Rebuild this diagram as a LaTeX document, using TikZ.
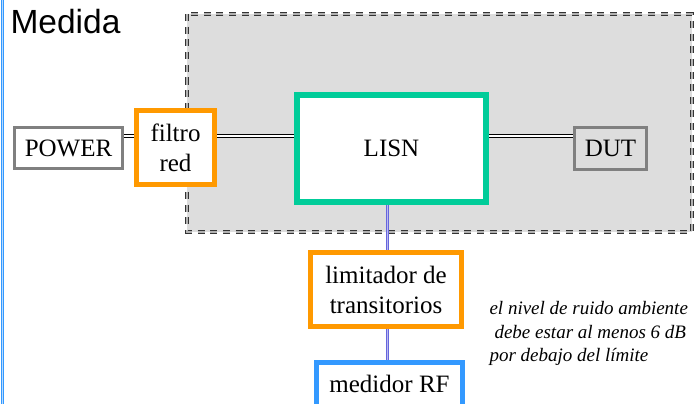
\documentclass[tikz,border=0pt]{standalone}
\usepackage{fontspec}
\setmainfont{Liberation Serif}
\newfontfamily\titlefont{Liberation Sans}
\newfontfamily\boxfont{Liberation Serif}
\definecolor{boxgray}{HTML}{808080}
\definecolor{filtorange}{HTML}{FF9900}
\definecolor{lisngreen}{HTML}{00CC99}
\definecolor{meterblue}{HTML}{3399FF}
\definecolor{areagray}{HTML}{DDDDDD}
\definecolor{rfwire}{HTML}{6666DD}
\begin{document}
\begin{tikzpicture}[x=1pt,y=-1pt,
    blockbox/.style={draw,fill=white,inner sep=0pt,align=center,
        font=\boxfont\fontsize{25}{30}\selectfont},
    mainswire/.style={draw=black,line width=1.3pt,double=white,double distance=1.1pt},
    rfline/.style={draw=rfwire,line width=1.2pt,double=rfwire!45,double distance=1.4pt}]
    \useasboundingbox (0,0) rectangle (696,404);

    % zona de medida
    \fill [areagray] (187,14) rectangle (692,232);
    \draw [draw=black!80,line width=1.4pt,double=black!30,double distance=1.3pt,
        dash pattern=on 7pt off 5.7pt] (187,14) rectangle (692,232);

    % borde izquierdo
    \draw [draw=meterblue,line width=1.2pt,double=meterblue!35,double distance=1pt] (2.2,0) -- (2.2,404);

    \node [anchor=west,font=\titlefont\fontsize{33.5}{38}\selectfont] (title) at (7,22) {Medida};

    \node [blockbox,draw=boxgray,line width=3pt,minimum width=108pt,minimum height=41pt] (power) at (68.5,148) {POWER};
    \node [blockbox,draw=filtorange,line width=5pt,minimum width=78pt,minimum height=74pt] (filtro) at (175.5,147.5) {filtro\\red};
    \node [blockbox,draw=lisngreen,line width=6pt,minimum width=189pt,minimum height=107pt] (lisn) at (391.5,148.5) {LISN};
    \node [blockbox,draw=boxgray,fill=areagray,line width=3pt,minimum width=72pt,minimum height=42pt] (dut) at (610.5,148.5) {DUT};
    \node [blockbox,draw=filtorange,line width=5pt,minimum width=151pt,minimum height=74pt] (limit) at (386,289.5) {limitador de\\transitorios};
    \node [blockbox,draw=meterblue,line width=5pt,minimum width=146pt,minimum height=44pt] (meter) at (389.5,384) {medidor RF};

    \node [anchor=north west,align=left,font=\boxfont\itshape\fontsize{19}{23.5}\selectfont] (note) at (486,298)
        {el nivel de ruido ambiente\\\hspace*{5pt}debe estar al menos 6 dB\\por debajo del límite};

    \coordinate (wirey) at (0,136);
    \coordinate (vline) at (387.5,0);

    \draw [mainswire] (power.east |- wirey) -- (filtro.west |- wirey);
    \draw [mainswire] (filtro.east |- wirey) -- (lisn.west |- wirey);
    \draw [mainswire] (lisn.east |- wirey) -- (dut.west |- wirey);

    \draw [rfline] (lisn.south -| vline) -- (limit.north -| vline);
    \draw [rfline] (limit.south -| vline) -- (meter.north -| vline);
\end{tikzpicture}
\end{document}
